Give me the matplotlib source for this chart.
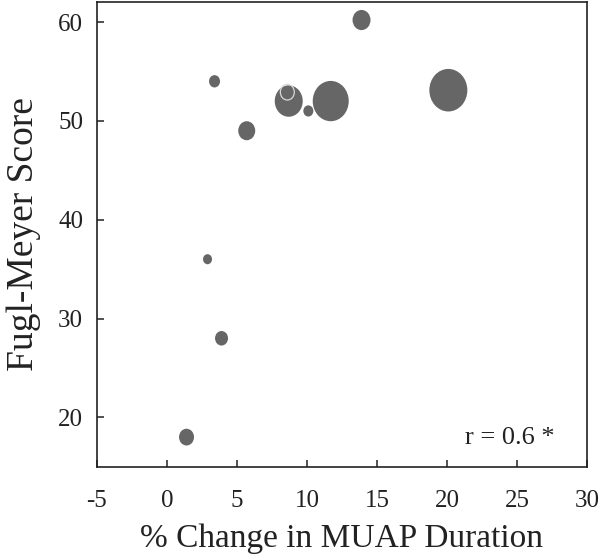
import matplotlib
matplotlib.use("Agg")
import matplotlib.pyplot as plt
import numpy as np
from matplotlib.path import Path

# data
muap_change = [13.9, 3.4, 8.7, 10.1, 11.7, 5.7, 20.1, 2.9, 3.9, 1.4]
fugl_meyer = [60.2, 54.0, 52.0, 51.0, 52.0, 49.0, 53.1, 36.0, 28.0, 18.0]
bubble_px = [18, 11, 28, 10, 36, 17, 38, 9, 13, 15]

hollow_x = [8.6]
hollow_y = [52.9]
hollow_px = [14]

xticks = [-5, 0, 5, 10, 15, 20, 25, 30]
yticks = [20, 30, 40, 50, 60]

plt.rcParams['font.family'] = ['Liberation Serif', 'DejaVu Serif']
plt.rcParams['axes.unicode_minus'] = False

# bubbles in the source are a bit taller than wide
circ = Path.unit_circle()
oval = Path(circ.vertices * np.array([1.0, 1.12]), circ.codes)


def area(px):
    # marker size is set by the tall side of the oval
    return [(d * 1.12 * 0.72) ** 2 for d in px]


fig = plt.figure(figsize=(6.02, 5.59), dpi=100)
ax = fig.add_axes([0.161, 0.165, 0.814, 0.831])

ax.scatter(muap_change, fugl_meyer, s=area(bubble_px), marker=oval,
           color='#666666', edgecolors='none', zorder=2)
ax.scatter(hollow_x, hollow_y, s=area(hollow_px), marker=oval,
           facecolors='none', edgecolors='#d8d8d8', linewidths=0.9, zorder=3)

ax.set_xlim(-5, 30)
ax.set_ylim(15, 62)
ax.set_xticks(xticks)
ax.set_yticks(yticks)
ax.tick_params(direction='in', length=5, width=1.1, labelsize=18,
               colors='#222222', top=False, right=False)
ax.tick_params(axis='x', pad=17)
ax.tick_params(axis='y', pad=10)
for sp in ax.spines.values():
    sp.set_linewidth(1.2)
    sp.set_color('#222222')

ax.set_xlabel('% Change in MUAP Duration', fontsize=24, color='#222222', labelpad=8)
ax.set_ylabel('Fugl-Meyer Score', fontsize=27, color='#222222', labelpad=12)

ax.text(0.935, 0.062, 'r = 0.6 *', transform=ax.transAxes, ha='right',
        va='center', fontsize=19, color='#222222')

fig.savefig('out.png', dpi=100)
